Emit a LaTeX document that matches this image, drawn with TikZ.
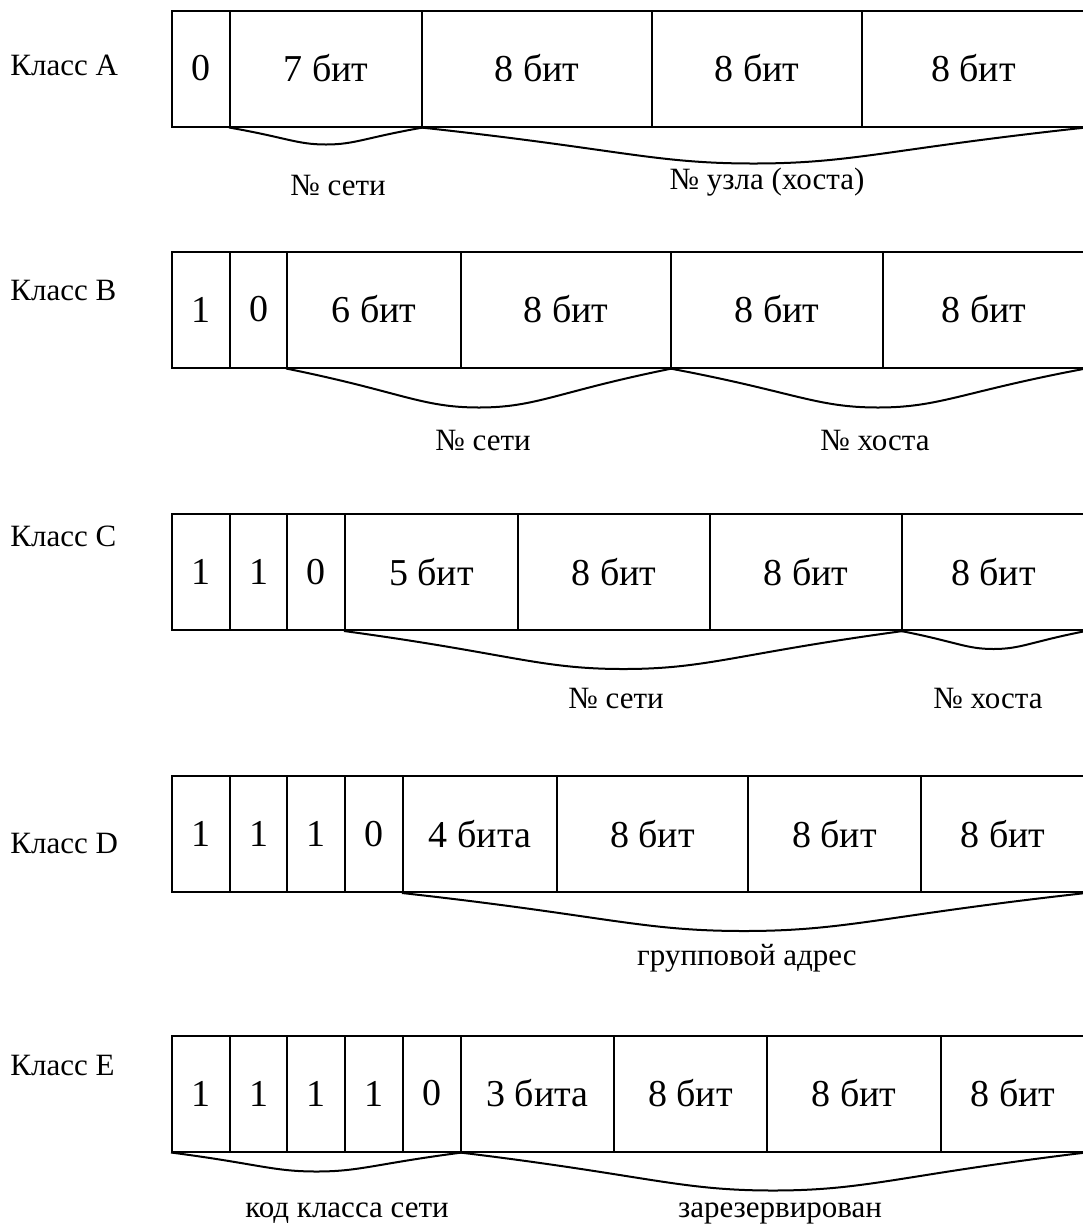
\documentclass[tikz,border=0pt]{standalone}
\usepackage{fontspec}
\setmainfont{Liberation Serif}
\usetikzlibrary{calc}
\tikzset{cell/.style={draw,line width=1pt,inner sep=0pt,minimum height=58pt,font=\fontsize{19}{22}\selectfont},
  cls/.style={anchor=west,inner sep=0pt,font=\fontsize{15.5}{18}\selectfont},
  lbl/.style={inner sep=0pt,font=\fontsize{15.5}{18}\selectfont},
  brace/.style={line width=1pt}}
% row of cells: name, centre y, list left/right/text
\newcommand{\bitrow}[3]{\foreach \xa/\xb/\txt [count=\i] in {#3}
  \node[cell,minimum width={(\xb-\xa)*0.5pt}] (#1\i) at ({(\xa+\xb)/2},#2) {\txt};}
% dip under a group of cells: left point, right point, depth
\newcommand{\dip}[3]{\draw[brace] (#1) .. controls ($(#1)!0.3!(#2)+(0,0.6*#3)$) and ($(#1)!0.35!(#2)+(0,#3)$) .. ($(#1)!0.5!(#2)+(0,#3)$)
  .. controls ($(#1)!0.65!(#2)+(0,#3)$) and ($(#1)!0.7!(#2)+(0,0.6*#3)$) .. (#2);}

\begin{document}
\begin{tikzpicture}[x=0.5pt,y=-0.5pt]
\useasboundingbox (0,0) rectangle (1083,1228);
% class A
\node[cls] (clsA) at (10,65) {Класс A};
\bitrow{A}{68.5}{172/230/0,230/422/7 бит,422/652/8 бит,652/862/8 бит,862/1085/8 бит}
\dip{A2.south west}{A2.south east}{17}
\dip{A3.south west}{A5.south east}{36}
\node[lbl] (netA) at (338,185) {№ сети};
\node[lbl] (hostA) at (767,182) {№ узла (хоста)};
% class B
\node[cls] (clsB) at (10,290) {Класс B};
\bitrow{B}{309.5}{172/230/1,230/287/0,287/461/6 бит,461/671/8 бит,671/883/8 бит,883/1085/8 бит}
\dip{B3.south west}{B4.south east}{39}
\dip{B5.south west}{B6.south east}{39}
\node[lbl] (netB) at (483,440) {№ сети};
\node[lbl] (hostB) at (875,440) {№ хоста};
% class C
\node[cls] (clsC) at (10,536) {Класс C};
\bitrow{C}{572}{172/230/1,230/287/1,287/345/0,345/518/5 бит,518/710/8 бит,710/902/8 бит,902/1085/8 бит}
\dip{C4.south west}{C6.south east}{38}
\dip{C7.south west}{C7.south east}{18}
\node[lbl] (netC) at (616,698) {№ сети};
\node[lbl] (hostC) at (988,698) {№ хоста};
% class D
\node[cls] (clsD) at (10,843) {Класс D};
\bitrow{D}{834}{172/230/1,230/287/1,287/345/1,345/403/0,403/557/4 бита,557/748/8 бит,748/921/8 бит,921/1085/8 бит}
\dip{D5.south west}{D8.south east}{38}
\node[lbl] (grpD) at (747,958) {групповой адрес};
% class E
\node[cls] (clsE) at (10,1065) {Класс E};
\bitrow{E}{1093.5}{172/230/1,230/287/1,287/345/1,345/403/1,403/461/0,461/614/3 бита,614/767/8 бит,767/941/8 бит,941/1085/8 бит}
\dip{E1.south west}{E5.south east}{19}
\dip{E6.south west}{E9.south east}{38}
\node[lbl] (codeE) at (347,1213) {код класса сети};
\node[lbl] (resE) at (780,1213) {зарезервирован};
\end{tikzpicture}
\end{document}
